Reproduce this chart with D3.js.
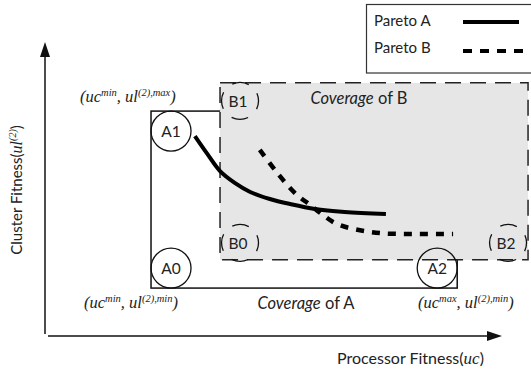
<!DOCTYPE html>
<html>
<head>
<meta charset="utf-8">
<script src="https://cdn.jsdelivr.net/npm/d3@7"></script>
<style>
  html, body { margin: 0; padding: 0; background: #fff; }
  svg { display: block; }
  .sans { font-family: Lato, "Open Sans", sans-serif; }
  .serif { font-family: "Liberation Serif", "DejaVu Serif", serif; font-style: italic; }
</style>
</head>
<body>
<script>
// Objective space, both fitness axes on a 0–100 scale
const paretoA_x = [32.8, 35.4, 38.3, 41.6, 44.9, 49.2, 53.6, 59.1, 65.6, 74.6];
const paretoA_y = [68.0, 62.2, 56.1, 52.0, 49.0, 46.6, 44.9, 43.2, 42.2, 41.5];
const paretoB_x = [47.0, 50.3, 54.7, 58.0, 60.8, 63.5, 66.7, 73.3, 81.0, 89.3];
const paretoB_y = [63.3, 56.5, 48.6, 44.6, 41.2, 38.4, 36.7, 35.0, 34.7, 34.7];

// Coverage boxes: [ucMin, ucMax, ulMin, ulMax]
const coverageA = [23.2, 90.2, 16.3, 76.5];
const coverageB = [38.3, 105.7, 25.9, 86.1];

const extremeA = ["A1", "A0", "A2"];
const extremeB = ["B1", "B0", "B2"];
const legendNames = ["Pareto A", "Pareto B"];

const W = 531, H = 373;
const svg = d3.select("body").append("svg").attr("width", W).attr("height", H);

const x = d3.scaleLinear().domain([0, 100]).range([45, 502]);
const y = d3.scaleLinear().domain([0, 100]).range([336, 42]);

const ink = "#111";

// ---- Axes with arrow heads ----
svg.append("line").attr("x1", x(0)).attr("x2", x(0)).attr("y1", y(100) + 12).attr("y2", y(0) - 2)
  .attr("stroke", ink).attr("stroke-width", 1.5);
svg.append("path").attr("d", `M${x(0)},${y(100)} L${x(0) - 5},${y(100) + 15} L${x(0) + 5},${y(100) + 15} Z`).attr("fill", ink);
svg.append("line").attr("x1", x(0) + 3).attr("x2", x(100) - 12).attr("y1", y(0)).attr("y2", y(0))
  .attr("stroke", ink).attr("stroke-width", 1.5);
svg.append("path").attr("d", `M${x(100)},${y(0)} L${x(100) - 15},${y(0) - 5} L${x(100) - 15},${y(0) + 5} Z`).attr("fill", ink);

// Axis titles
const xt = svg.append("text").attr("class", "sans").attr("x", 337).attr("y", 364)
  .attr("font-size", 16).attr("fill", "#222");
xt.append("tspan").text("Processor Fitness(");
xt.append("tspan").attr("class", "serif").attr("font-size", 17).text("uc");
xt.append("tspan").text(")");

const yt = svg.append("text").attr("class", "sans")
  .attr("transform", "translate(22,190) rotate(-90)").attr("text-anchor", "middle")
  .attr("font-size", 15).attr("fill", "#222");
yt.append("tspan").text("Cluster Fitness(");
yt.append("tspan").attr("class", "serif").attr("font-size", 16).text("ul");
yt.append("tspan").attr("class", "serif").attr("font-size", 10).attr("dy", -6).text("(2)");
yt.append("tspan").attr("dy", 6).text(")");

// ---- Coverage of A (solid box) ----
const [a0, a1, a2, a3] = coverageA;
svg.append("rect")
  .attr("x", x(a0)).attr("y", y(a3))
  .attr("width", x(a1) - x(a0)).attr("height", y(a2) - y(a3))
  .attr("fill", "none").attr("stroke", ink).attr("stroke-width", 1.5);

// ---- Coverage of B (shaded, dashed box) ----
const [b0, b1, b2, b3] = coverageB;
svg.append("rect")
  .attr("x", x(b0)).attr("y", y(b3))
  .attr("width", x(b1) - x(b0)).attr("height", y(b2) - y(b3))
  .attr("fill", "#e6e6e6").attr("stroke", "#222").attr("stroke-width", 1.5)
  .attr("stroke-dasharray", "16,9");

// ---- Pareto fronts ----
const line = d3.line().x(d => x(d[0])).y(d => y(d[1])).curve(d3.curveCatmullRom.alpha(0.5));
const ptsA = paretoA_x.map((v, i) => [v, paretoA_y[i]]);
const ptsB = paretoB_x.map((v, i) => [v, paretoB_y[i]]);

svg.append("path").attr("d", line(ptsA)).attr("fill", "none")
  .attr("stroke", "#000").attr("stroke-width", 4);
svg.append("path").attr("d", line(ptsB)).attr("fill", "none")
  .attr("stroke", "#000").attr("stroke-width", 4.5).attr("stroke-dasharray", "8,8");

// ---- Extreme points of A: circles inscribed in the box corners ----
const rA = 20;
const cornersA = [
  [x(a0) + rA, y(a3) + rA],
  [x(a0) + rA, y(a2) - rA],
  [x(a1) - rA, y(a2) - rA]
];
cornersA.forEach((c, i) => {
  svg.append("circle").attr("cx", c[0]).attr("cy", c[1]).attr("r", rA)
    .attr("fill", "none").attr("stroke", ink).attr("stroke-width", 1.3);
  svg.append("text").attr("class", "sans").attr("x", c[0]).attr("y", c[1] + 5.5)
    .attr("text-anchor", "middle").attr("font-size", 15.5).attr("fill", "#222").text(extremeA[i]);
});

// ---- Extreme points of B: dashed circles at the box corners ----
const rB = 18.5;
const circ = 2 * Math.PI * rB;
const cornersB = [
  [x(b0) + 20, y(b3) + 18],
  [x(b0) + 20, y(b2) - 17],
  [x(b1) - 20, y(b2) - 17]
];
cornersB.forEach((c, i) => {
  svg.append("circle").attr("cx", c[0]).attr("cy", c[1]).attr("r", rB)
    .attr("fill", "none").attr("stroke", ink).attr("stroke-width", 1.3)
    .attr("stroke-dasharray", `${circ / 4 - 12},12`).attr("stroke-dashoffset", (circ / 4 - 12) / 2);
  svg.append("text").attr("class", "sans").attr("x", c[0] - 2).attr("y", c[1] + 6)
    .attr("text-anchor", "middle").attr("font-size", 15.5).attr("fill", "#222").text(extremeB[i]);
});

// ---- Coverage captions ----
function coverageCaption(cx, cy, letter) {
  const t = svg.append("text").attr("class", "sans").attr("x", cx).attr("y", cy)
    .attr("text-anchor", "middle").attr("font-size", 16.5).attr("fill", "#222");
  t.append("tspan").attr("font-style", "italic").text("Coverage");
  t.append("tspan").text(" of " + letter);
}
coverageCaption(306, 309, "A");
coverageCaption(359, 104, "B");

// ---- Corner coordinate labels ----
function coordLabel(px, py, first, second) {
  const t = svg.append("text").attr("class", "serif").attr("x", px).attr("y", py)
    .attr("font-size", 16.5).attr("fill", "#222");
  t.append("tspan").text("(uc");
  t.append("tspan").attr("font-size", 10.5).attr("dy", -6).text(first);
  t.append("tspan").attr("dy", 6).text(", ul");
  t.append("tspan").attr("font-size", 10.5).attr("dy", -6).text(second);
  t.append("tspan").attr("dy", 6).text(")");
}
coordLabel(80, 102, "min", "(2),max");
coordLabel(84, 308, "min", "(2),min");
coordLabel(418, 308, "max", "(2),min");

// ---- Legend ----
const lg = svg.append("g");
lg.append("rect").attr("x", 366.5).attr("y", 4.5).attr("width", 180).attr("height", 68.5)
  .attr("fill", "#fff").attr("stroke", "#333").attr("stroke-width", 1.2);
lg.append("text").attr("class", "sans").attr("x", 374).attr("y", 26).attr("font-size", 15)
  .attr("fill", "#222").text(legendNames[0]);
lg.append("text").attr("class", "sans").attr("x", 374).attr("y", 53).attr("font-size", 15)
  .attr("fill", "#222").text(legendNames[1]);
lg.append("line").attr("x1", 463).attr("x2", 519).attr("y1", 22).attr("y2", 22)
  .attr("stroke", "#000").attr("stroke-width", 4);
lg.append("line").attr("x1", 463).attr("x2", 531).attr("y1", 51).attr("y2", 51)
  .attr("stroke", "#000").attr("stroke-width", 4).attr("stroke-dasharray", "9,8");
</script>
</body>
</html>
